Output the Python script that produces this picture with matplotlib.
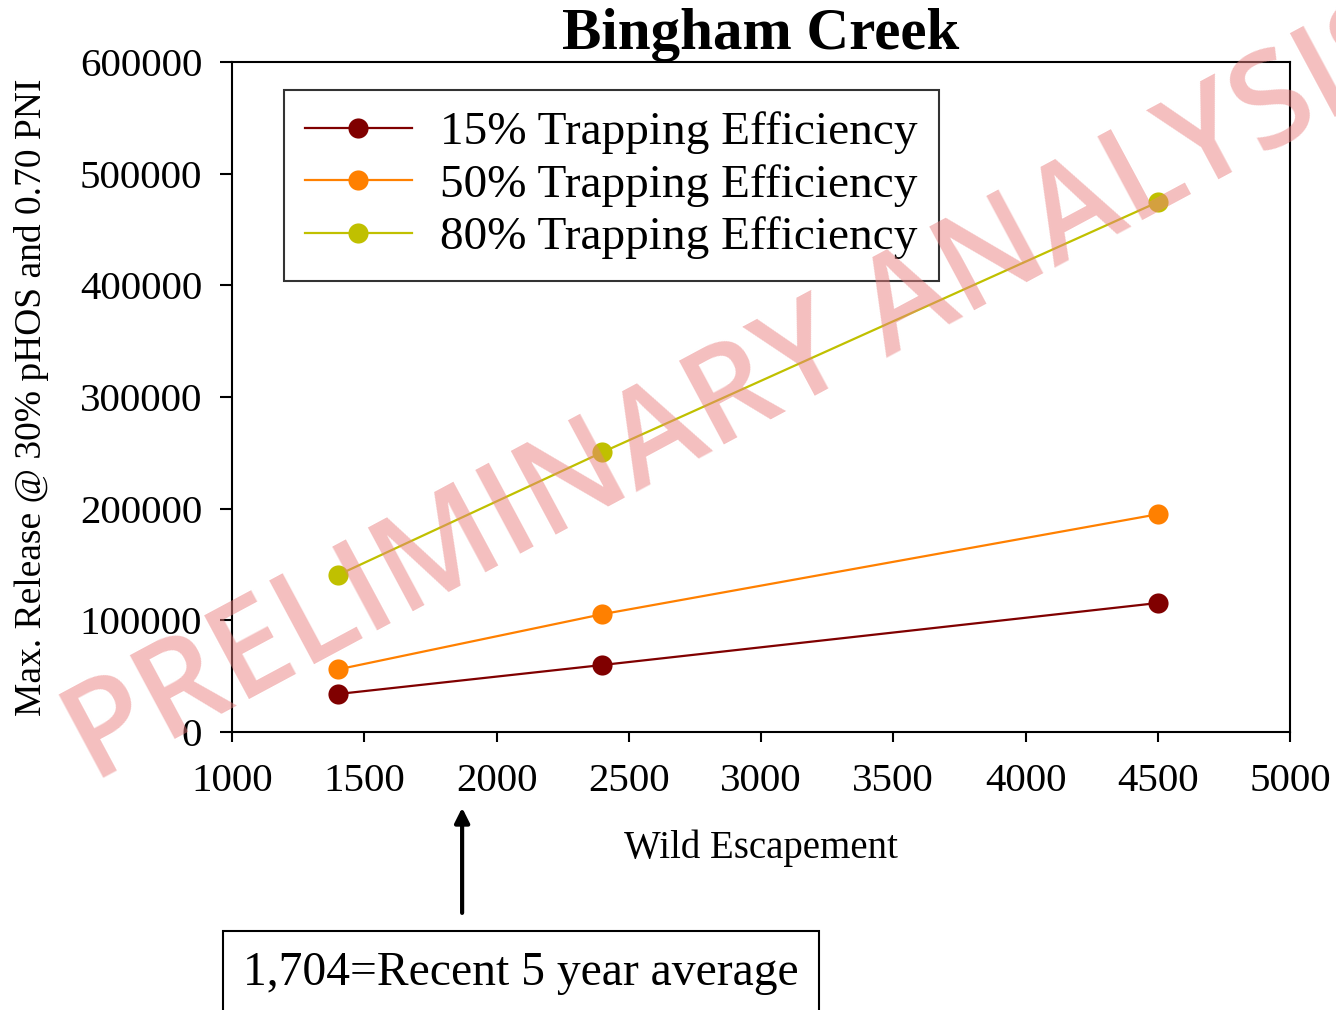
import matplotlib
matplotlib.use("Agg")
import matplotlib.pyplot as plt

# ---- data ----
escapement = [1400, 2400, 4500]
te15 = [34000, 60000, 115500]
te50 = [56000, 105500, 195000]
te80 = [140500, 250500, 474500]
series_labels = ["15% Trapping Efficiency", "50% Trapping Efficiency", "80% Trapping Efficiency"]
series_colors = ["#800000", "#ff8000", "#c0c000"]
xticks = [1000, 1500, 2000, 2500, 3000, 3500, 4000, 4500, 5000]
yticks = [0, 100000, 200000, 300000, 400000, 500000, 600000]
arrow_x = 1870
note_text = "1,704=Recent 5 year average"
title = "Bingham Creek"
xlabel = "Wild Escapement"
ylabel = "Max. Release @ 30% pHOS and 0.70 PNI"
watermark = "PRELIMINARY ANALYSIS"

plt.rcParams['font.family'] = ['Liberation Serif', 'DejaVu Serif']

fig = plt.figure(figsize=(13.36, 10.10), dpi=100)
ax = fig.add_axes([232/1336, 1-732/1010, (1290-232)/1336, (732-62)/1010])

for ys, lab, col in zip([te15, te50, te80], series_labels, series_colors):
    ax.plot(escapement, ys, color=col, lw=1.6, marker='o', markersize=14.5,
            markeredgewidth=0, label=lab, zorder=3)

ax.set_xlim(1000, 5000)
ax.set_ylim(0, 600000)
ax.set_xticks(xticks)
ax.set_yticks(yticks)
ax.set_xticklabels([str(v) for v in xticks])
ax.set_yticklabels([str(v) for v in yticks])
ax.tick_params(axis='both', direction='out', width=1.5, labelsize=29.5)
ax.tick_params(axis='x', length=7.5, pad=15)
ax.tick_params(axis='y', length=8.5, pad=13)
for s in ax.spines.values():
    s.set_linewidth(1.5)

ax.set_title(title, fontsize=42.5, fontweight='bold', pad=6)
ax.set_xlabel(xlabel, fontsize=28, labelpad=21)
ax.set_ylabel(ylabel, fontsize=27, labelpad=22)

leg = ax.legend(loc='upper left', bbox_to_anchor=(52/1058, (732-90)/670),
                borderaxespad=0, fontsize=34, frameon=True, fancybox=False,
                edgecolor='black', handlelength=2.25, handletextpad=0.6,
                labelspacing=0.2, borderpad=0.45)
leg.get_frame().set_linewidth(1.5)

# arrow pointing at recent average
ax.annotate('', xy=(arrow_x, -0.113), xycoords=('data', 'axes fraction'),
            xytext=(arrow_x, -0.27), textcoords=('data', 'axes fraction'),
            arrowprops=dict(arrowstyle='-|>', lw=3, color='black', mutation_scale=22,
                            shrinkA=0, shrinkB=0))

fig.text(521/1336, 1-973/1010, note_text, fontsize=34.3, ha='center', va='center',
         bbox=dict(boxstyle='square,pad=0.42', facecolor='white', edgecolor='black', lw=1.5))

# watermark
fig.text(93/1336, 1-783/1010, watermark, fontsize=95, family=['Open Sans', 'Liberation Sans'],
         fontweight='semibold', color='#e98080', alpha=0.5, rotation=28.2,
         rotation_mode='anchor', ha='left', va='baseline', zorder=10)

fig.savefig('out.png', dpi=100)
